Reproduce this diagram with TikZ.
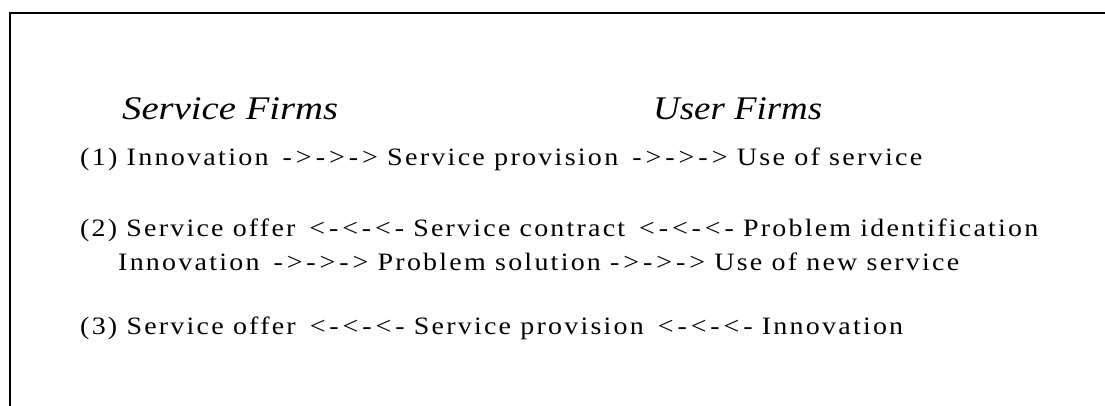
\documentclass[tikz,border=0pt]{standalone}
\usepackage{fontspec}
\usepackage{graphicx}
\newfontfamily\bodyfont[LetterSpace=8]{Liberation Serif}
\newfontfamily\headfont{Liberation Serif}
% stretch a line of text horizontally to a given width (in pt)
\newcommand\fitline[2]{\resizebox{#1pt}{\height}{#2}}
\newcommand\gap{\hspace{0.5em}}
% arrow runs, set a little wider than the words
\newcommand\fwd{{\addfontfeature{LetterSpace=14}->->->}}
\newcommand\bwd{{\addfontfeature{LetterSpace=14}<-<-<-}}
\begin{document}
\begin{tikzpicture}[x=1pt,y=-1pt,
  txt/.style={anchor=base west,inner sep=0pt,font=\bodyfont\fontsize{25}{29}\selectfont},
  head/.style={anchor=base west,inner sep=0pt,font=\headfont\itshape\fontsize{33}{37}\selectfont},
  frame/.style={line width=2pt}]
  \useasboundingbox (0,0) rectangle (1105,406);
  % open frame: left and top edges
  \draw[frame] (10,406) -- (10,13) -- (1105,13);
  % column headings
  \node[head] (hs) at (122,120) {\fitline{216}{Service Firms}};
  \node[head] (hu) at (653,120) {\fitline{169}{User Firms}};
  % the three relationship patterns
  \node[txt] (l1) at (80,166) {\fitline{842}{(1) Innovation\gap\fwd\ Service provision\gap\fwd\ Use of service}};
  \node[txt] (l2) at (80,236) {\fitline{958}{(2) Service offer\gap\bwd\ Service contract\gap\bwd\ Problem identification}};
  \node[txt] (l3) at (118,270) {\fitline{841}{Innovation\gap\fwd\ Problem solution \fwd\ Use of new service}};
  \node[txt] (l4) at (80,334) {\fitline{823}{(3) Service offer\gap\bwd\ Service provision\gap\bwd\ Innovation}};
\end{tikzpicture}
\end{document}
